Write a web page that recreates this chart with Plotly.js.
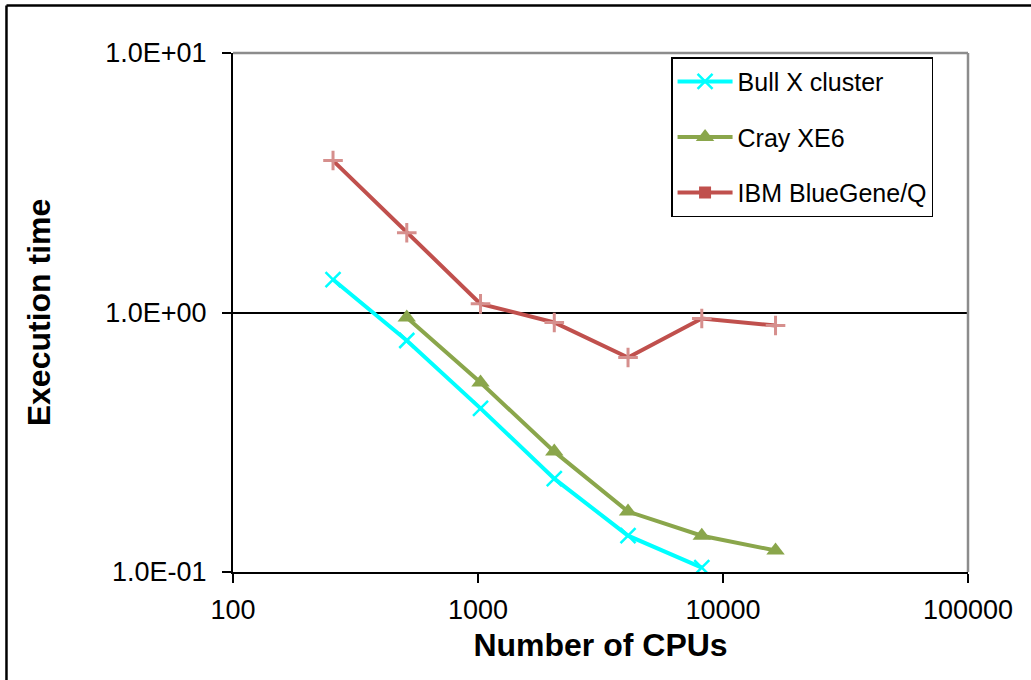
<!DOCTYPE html>
<html>
<head>
<meta charset="utf-8">
<script src="https://cdn.plot.ly/plotly-3.0.1.min.js"></script>
<style>html,body{margin:0;padding:0;background:#fff;}#chart{width:1031px;height:680px;}</style>
</head>
<body>
<div id="chart"></div>
<script>
// Data
const cpusBull = [256, 512, 1024, 2048, 4096, 8192];
const timeBull = [1.34, 0.78, 0.427, 0.229, 0.138, 0.104];
const cpusCray = [512, 1024, 2048, 4096, 8192, 16384];
const timeCray = [0.957, 0.537, 0.291, 0.171, 0.138, 0.121];
const cpusIBM = [256, 512, 1024, 2048, 4096, 8192, 16384];
const timeIBM = [3.85, 2.03, 1.08, 0.915, 0.671, 0.948, 0.891];
const seriesNames = ["Bull X cluster", "Cray XE6", "IBM BlueGene/Q"];
const xTickVals = [100, 1000, 10000, 100000];
const xTickText = ["100", "1000", "10000", "100000"];
const yTickVals = [0.1, 1, 10];
const yTickText = ["1.0E-01", "1.0E+00", "1.0E+01"];

const FONT = "Liberation Sans, Arial, sans-serif";

const traces = [
  {
    x: cpusBull, y: timeBull, name: seriesNames[0], legendgroup: "a",
    mode: "lines+markers", type: "scatter",
    line: {color: "#00ffff", width: 4},
    marker: {symbol: "x-thin", size: 15, color: "#00ffff", line: {color: "#00ffff", width: 2.5}}
  },
  {
    x: cpusCray, y: timeCray, name: seriesNames[1], legendgroup: "b",
    mode: "lines+markers", type: "scatter",
    line: {color: "#8aa64b", width: 4},
    marker: {symbol: "triangle-up", size: 16, color: "#8aa64b"}
  },
  {
    x: cpusIBM, y: timeIBM, name: seriesNames[2], legendgroup: "c", showlegend: false,
    mode: "lines+markers", type: "scatter",
    line: {color: "#c0504d", width: 4},
    marker: {symbol: "cross-thin", size: 14, color: "#d68f8d", line: {color: "#d68f8d", width: 3}}
  },
  {
    x: [null], y: [null], name: seriesNames[2], legendgroup: "c",
    mode: "lines+markers", type: "scatter",
    line: {color: "#c0504d", width: 4},
    marker: {symbol: "square", size: 12, color: "#c0504d"}
  }
];

const layout = {
  width: 1031, height: 680,
  margin: {l: 233, r: 63, t: 53, b: 108, pad: 0},
  paper_bgcolor: "#fff", plot_bgcolor: "#fff",
  font: {family: FONT, color: "#000"},
  showlegend: true,
  legend: {
    x: 0.596, y: 0.992, xanchor: "left", yanchor: "top",
    bordercolor: "#000", borderwidth: 1.5, bgcolor: "#fff",
    font: {family: FONT, size: 25, color: "#000"},
    tracegroupgap: 20, itemwidth: 55
  },
  xaxis: {
    type: "log", range: [2, 5],
    tickvals: xTickVals, ticktext: xTickText,
    ticks: "outside", ticklen: 9, tickwidth: 2, tickcolor: "#000",
    showline: true, linecolor: "#000", linewidth: 2,
    showgrid: false, zeroline: false,
    ticklabelstandoff: 4,
    tickfont: {family: FONT, size: 27, color: "#000"},
    title: {text: "<b>Number of CPUs</b>", font: {family: FONT, size: 32, color: "#000"}, standoff: 9}
  },
  yaxis: {
    type: "log", range: [-1, 1],
    tickvals: yTickVals, ticktext: yTickText,
    ticks: "outside", ticklen: 9, tickwidth: 2, tickcolor: "#000",
    showline: true, linecolor: "#000", linewidth: 2,
    showgrid: true, gridcolor: "#000", gridwidth: 2, zeroline: false,
    ticklabelstandoff: 10,
    tickfont: {family: FONT, size: 27, color: "#000"},
    title: {text: "<b>Execution time</b>", font: {family: FONT, size: 32, color: "#000"}, standoff: 45}
  },
  shapes: [
    {type: "line", xref: "paper", yref: "paper", x0: 0, x1: 1, y0: 1, y1: 1, line: {color: "#8c8c8c", width: 2.5}, layer: "above"},
    {type: "line", xref: "paper", yref: "paper", x0: 1, x1: 1, y0: 0, y1: 1, line: {color: "#8c8c8c", width: 2.5}, layer: "above"},
    {type: "line", xref: "paper", yref: "paper", x0: -0.3082, x1: 1.2, y0: 1.0915, y1: 1.0915, line: {color: "#000", width: 2.5}},
    {type: "line", xref: "paper", yref: "paper", x0: -0.3082, x1: -0.3082, y0: -0.3, y1: 1.0915, line: {color: "#000", width: 2.5}}
  ]
};

Plotly.newPlot("chart", traces, layout, {displayModeBar: false, staticPlot: true});
</script>
</body>
</html>
